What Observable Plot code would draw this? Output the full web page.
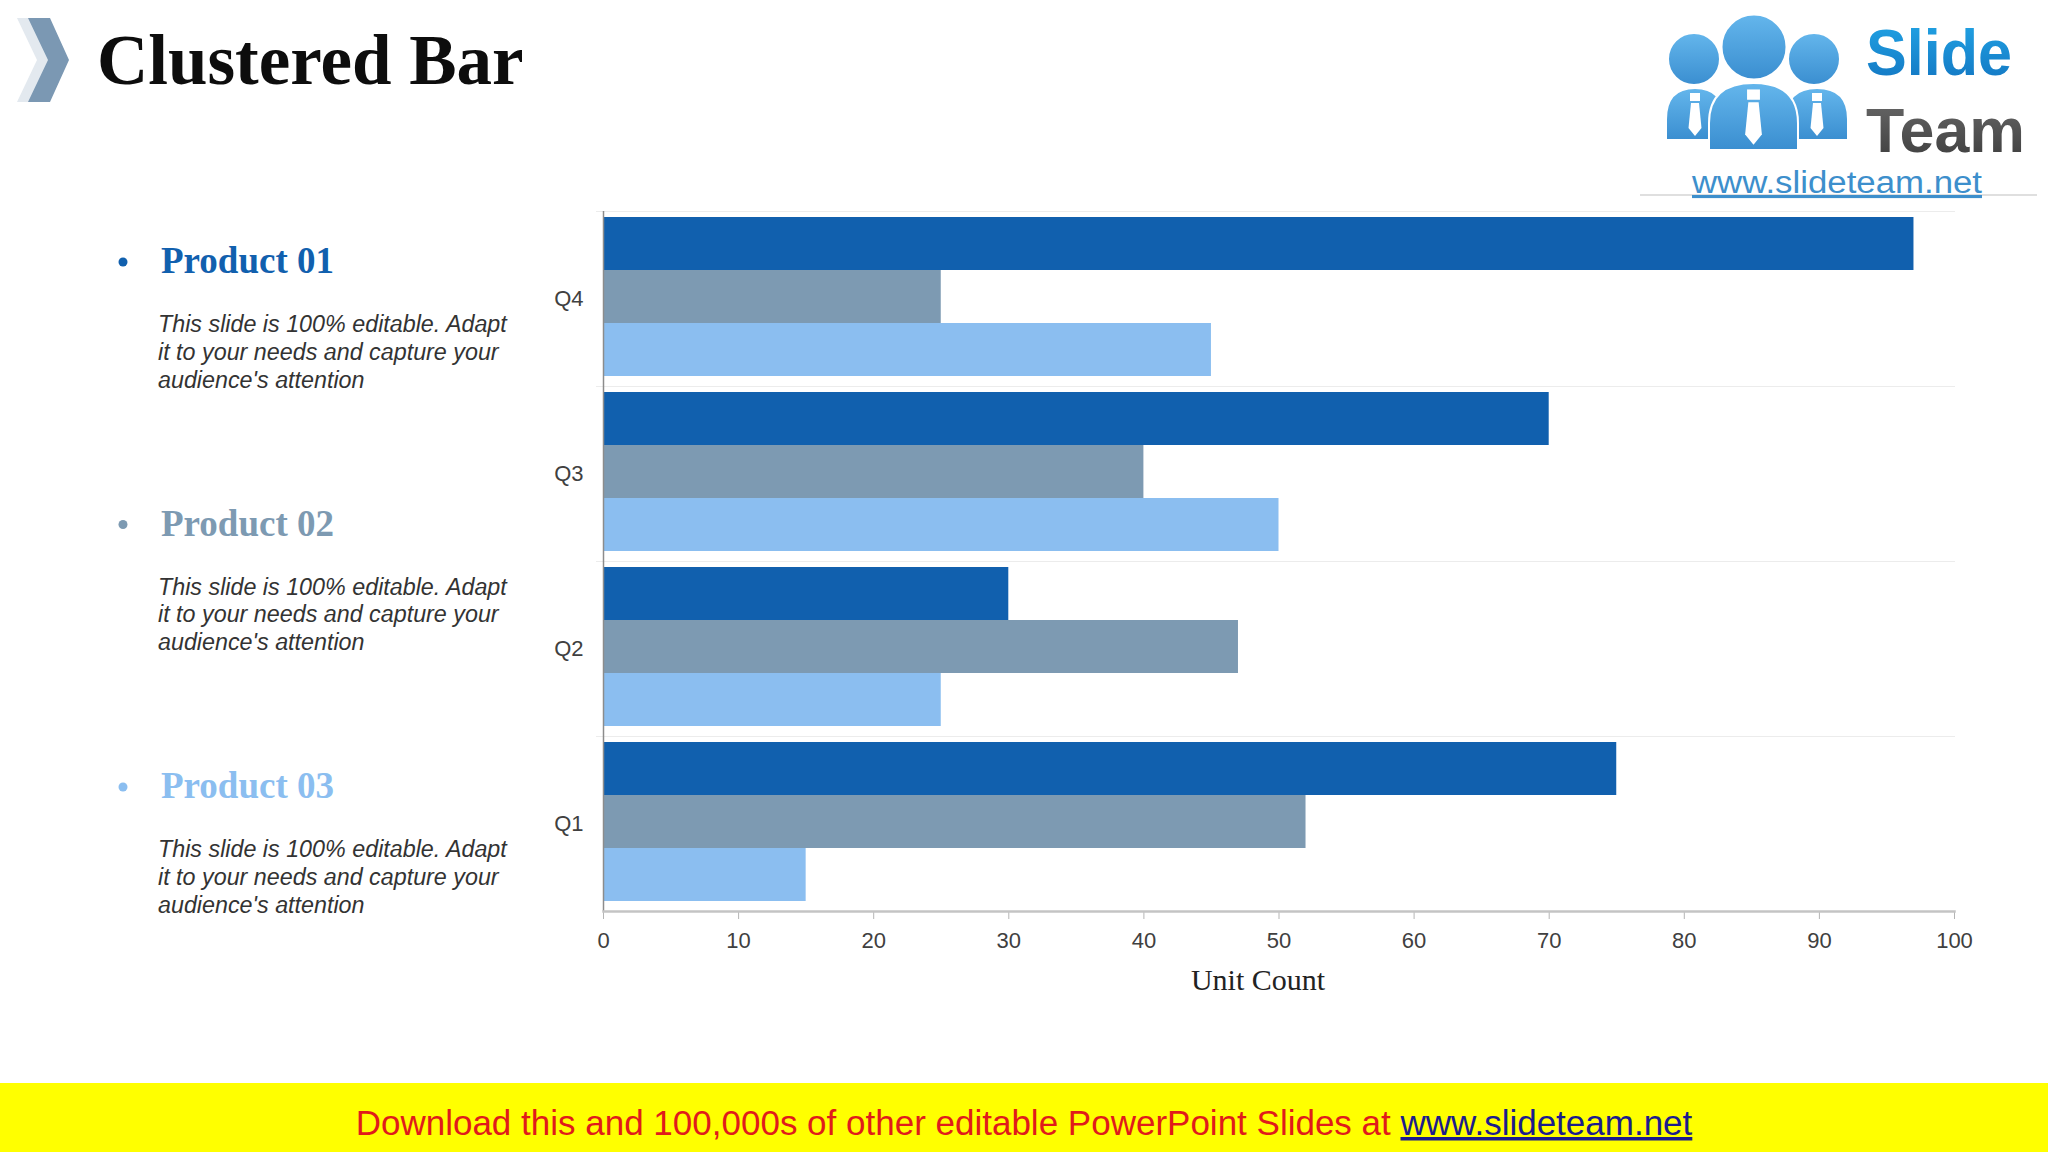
<!DOCTYPE html>
<html><head><meta charset="utf-8">
<script src="https://cdn.jsdelivr.net/npm/d3@7"></script>
<script src="https://cdn.jsdelivr.net/npm/@observablehq/plot@0.6"></script>
<style>
html,body{margin:0;padding:0;background:#fff;}
#slide{position:relative;width:2048px;height:1152px;overflow:hidden;background:#fff;}
#deco{position:absolute;left:0;top:0;}
#chart{position:absolute;left:500px;top:190px;}
#chart g[aria-label="x-axis label"]{translate:-21px 0;}
#chart g[aria-label="x-axis label"] text{font-family:"Liberation Serif","DejaVu Serif",serif;font-size:30px;fill:#222;}
#chart g[aria-label="x-axis tick"] path{stroke:#b5b5b5;}
</style></head><body>
<div id="slide">
<svg id="deco" width="2048" height="1152"></svg>
<div id="chart"></div>
</div>
<script>
// ---- data ----
const quarters = ["Q1", "Q2", "Q3", "Q4"];
const products = ["Product 01", "Product 02", "Product 03"];
const colors = ["#1160ae", "#7d9ab2", "#8bbef0"];
const product01 = [75, 30, 70, 97];
const product02 = [52, 47, 40, 25];
const product03 = [15, 25, 50, 45];
const xTicks = [0, 10, 20, 30, 40, 50, 60, 70, 80, 90, 100];
const titleText = "Clustered Bar";
const xLabel = "Unit Count";
const descLines = ["This slide is 100% editable. Adapt", "it to your needs and capture your", "audience's attention"];
const bannerText = "Download this and 100,000s of other editable PowerPoint Slides at ";
const bannerLink = "www.slideteam.net";

const series = [product01, product02, product03];
const data = quarters.flatMap((q, i) => products.map((p, j) => ({quarter: q, product: p, value: series[j][i]})));

// ---- chart ----
const chart = Plot.plot({
  width: 1500, height: 803,
  marginLeft: 103, marginRight: 46, marginTop: 19, marginBottom: 81,
  style: {fontFamily: '"Liberation Sans", Arial, sans-serif', fontSize: "22px", color: "#404040", background: "transparent", overflow: "visible"},
  x: {domain: [0, 100], ticks: xTicks, tickSize: 8, tickPadding: 13, label: xLabel, labelAnchor: "center", labelArrow: "none"},
  y: {domain: products, axis: null, paddingInner: 0, paddingOuter: 0.14, align: 0.4},
  fy: {domain: quarters.slice().reverse(), padding: 0, label: null, axis: "left", tickSize: 0, tickPadding: 20},
  color: {domain: products, range: colors},
  marks: [
    Plot.frame({anchor: "top", stroke: "#ececec", insetLeft: -7}),
    Plot.barX(data, {x: "value", y: "product", fy: "quarter", fill: "product"}),
    Plot.ruleX([0], {stroke: "#8c8c8c", strokeWidth: 1.5}),
    Plot.frame({anchor: "bottom", stroke: "#c4c4c4", strokeWidth: 2.5, facet: "super"})
  ]
});
document.getElementById("chart").appendChild(chart);

// ---- decorations ----
const svg = d3.select("#deco");
// chevrons
svg.append("polygon").attr("points", "17,18 38,18 57,60 38,102 17,102 37,60").attr("fill", "#e3e9ef");
svg.append("polygon").attr("points", "28,18 50,18 69,60 50,102 28,102 48,60").attr("fill", "#7b98b3");
// title
svg.append("text").attr("x", 97).attr("y", 84).text(titleText)
  .attr("font-family", '"Liberation Serif", serif').attr("font-weight", "bold").attr("font-size", 71).attr("fill", "#0d0d0d");

// left panel
products.forEach((p, i) => {
  const base = 273 + i * 262.5;
  svg.append("circle").attr("cx", 123).attr("cy", base - 11).attr("r", 4.5).attr("fill", colors[i]);
  svg.append("text").attr("x", 161).attr("y", base).text(p)
    .attr("font-family", '"Liberation Serif", serif').attr("font-weight", "bold").attr("font-size", 37).attr("fill", colors[i]);
  const t = svg.append("text").attr("font-family", '"Liberation Sans", Arial, sans-serif').attr("font-style", "italic")
    .attr("font-size", 23.3).attr("fill", "#333");
  descLines.forEach((l, k) => t.append("tspan").attr("x", 158).attr("y", base + 59 + k * 27.8).text(l));
});

// logo
const logo = svg.append("g");
const defs = svg.append("defs");
const grad = defs.append("linearGradient").attr("id", "lg").attr("x1", 0).attr("y1", 0).attr("x2", 0).attr("y2", 1);
grad.append("stop").attr("offset", 0).attr("stop-color", "#64b6ec");
grad.append("stop").attr("offset", 1).attr("stop-color", "#3a8ed0");
const g2 = defs.append("linearGradient").attr("id", "ls").attr("x1", 0).attr("y1", 0).attr("x2", 0).attr("y2", 1);
g2.append("stop").attr("offset", 0).attr("stop-color", "#22a6e6");
g2.append("stop").attr("offset", 1).attr("stop-color", "#1273c0");
const g3 = defs.append("linearGradient").attr("id", "lt").attr("x1", 0).attr("y1", 0).attr("x2", 0).attr("y2", 1);
g3.append("stop").attr("offset", 0).attr("stop-color", "#6a6a6a");
g3.append("stop").attr("offset", 1).attr("stop-color", "#3c3c3c");
const people = [
  {cx: 1694, cy: 59, r: 26, x1: 1666, x2: 1724, top: 88, bot: 140},
  {cx: 1814, cy: 59, r: 26, x1: 1786, x2: 1848, top: 88, bot: 140},
  {cx: 1754, cy: 47, r: 32.5, x1: 1709, x2: 1798, top: 83, bot: 150}
];
people.forEach(d => {
  logo.append("circle").attr("cx", d.cx).attr("cy", d.cy).attr("r", d.r).attr("fill", "url(#lg)").attr("stroke", "#fff").attr("stroke-width", 2);
  const w = d.x2 - d.x1, h = d.bot - d.top;
  logo.append("path").attr("d", `M${d.x1},${d.bot} L${d.x1},${d.top + h * 0.6} Q${d.x1},${d.top} ${d.x1 + w / 2},${d.top} Q${d.x2},${d.top} ${d.x2},${d.top + h * 0.6} L${d.x2},${d.bot} Z`)
    .attr("fill", "url(#lg)").attr("stroke", "#fff").attr("stroke-width", 2);
  const mx = d.x1 + w / 2;
  const k = h / 52;
  logo.append("rect").attr("x", mx - 5 * k).attr("y", d.top + 5 * k).attr("width", 10 * k).attr("height", 8 * k).attr("fill", "#fff");
  logo.append("path").attr("d", `M${mx - 4 * k},${d.top + 15 * k} L${mx + 4 * k},${d.top + 15 * k} L${mx + 6.5 * k},${d.top + 40 * k} L${mx},${d.top + 48 * k} L${mx - 6.5 * k},${d.top + 40 * k} Z`).attr("fill", "#fff");
});
logo.append("text").attr("x", 1866).attr("y", 75).text("Slide").attr("font-family", '"Liberation Sans", Arial, sans-serif')
  .attr("font-weight", "bold").attr("font-size", 65).attr("fill", "url(#ls)").attr("textLength", 146).attr("lengthAdjust", "spacingAndGlyphs");
logo.append("text").attr("x", 1866).attr("y", 152).text("Team").attr("font-family", '"Liberation Sans", Arial, sans-serif')
  .attr("font-weight", "bold").attr("font-size", 63).attr("fill", "url(#lt)").attr("textLength", 159).attr("lengthAdjust", "spacingAndGlyphs");
logo.append("line").attr("x1", 1640).attr("x2", 2037).attr("y1", 195).attr("y2", 195).attr("stroke", "#d5d5d5").attr("stroke-width", 1.5);
logo.append("text").attr("x", 1692).attr("y", 193).text(bannerLink).attr("font-family", '"Liberation Sans", Arial, sans-serif')
  .attr("font-size", 31).attr("fill", "#3d8fcc").attr("text-decoration", "underline").attr("textLength", 290).attr("lengthAdjust", "spacingAndGlyphs");

// banner
svg.append("rect").attr("x", 0).attr("y", 1083).attr("width", 2048).attr("height", 69).attr("fill", "#ffff00");
const bt = svg.append("text").attr("x", 1024).attr("y", 1135).attr("text-anchor", "middle")
  .attr("font-family", '"Liberation Sans", Arial, sans-serif').attr("font-size", 35);
bt.append("tspan").attr("fill", "#e01b1b").text(bannerText);
bt.append("tspan").attr("fill", "#1c1c8c").attr("text-decoration", "underline").text(bannerLink);
</script>
</body></html>
